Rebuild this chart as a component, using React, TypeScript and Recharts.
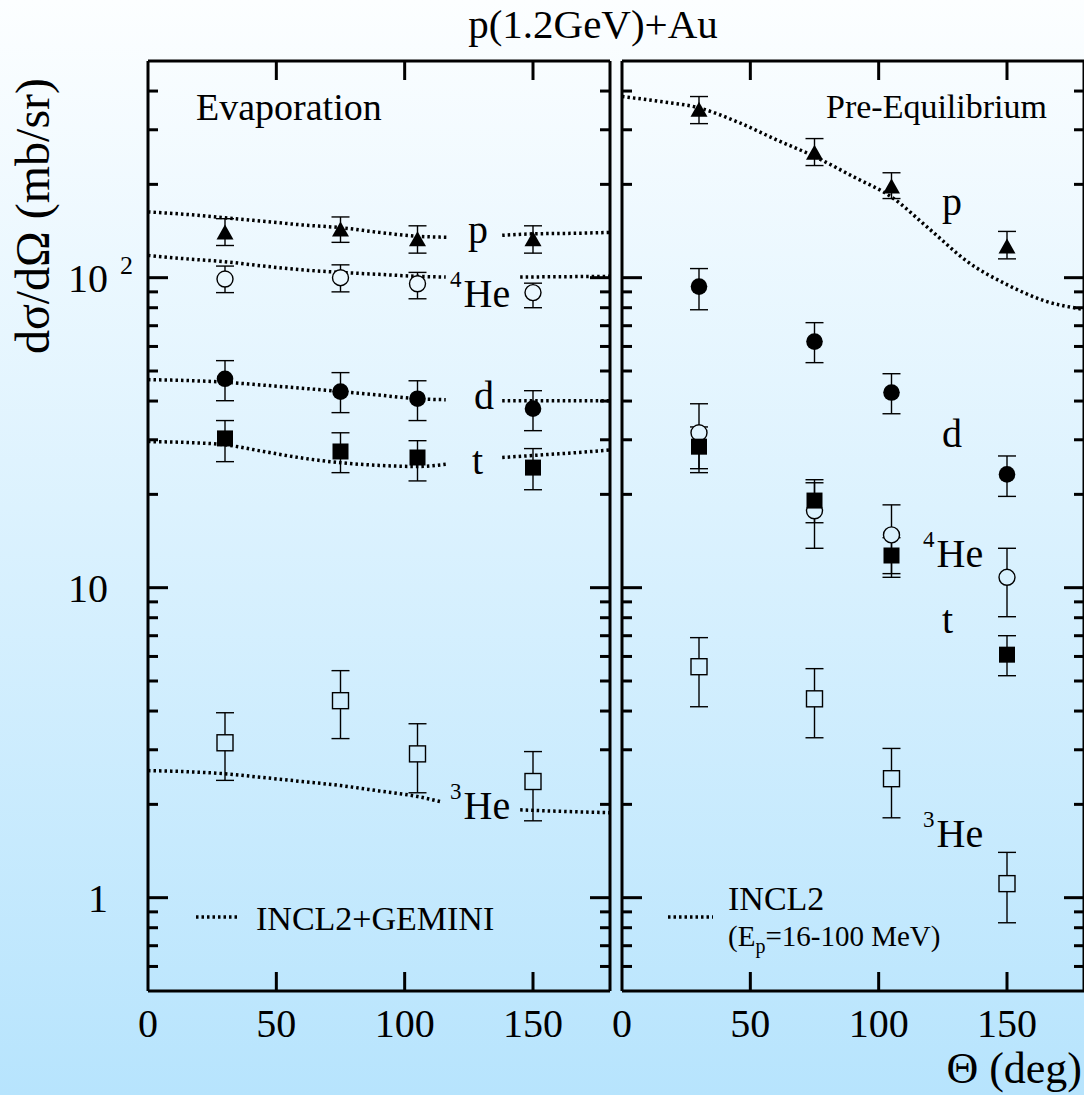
import React from "react";
import { ComposedChart, Line, Scatter, XAxis, YAxis, ErrorBar } from "recharts";

const W = 1084;
const H = 1095;
const TOP = 61;
const BOTTOM = 991;
const SERIF = "'Liberation Serif', 'Times New Roman', serif";
const BG_TOP = "#fcfeff";
const BG_BOTTOM = "#b7e4fd";

const angles = [30, 75, 105, 150];
const xTicks = [0, 50, 100, 150];
const yTicks = [
  0.6, 0.7, 0.8, 0.9, 1, 2, 3, 4, 5, 6, 7, 8, 9, 10, 20, 30, 40, 50, 60, 70, 80, 90, 100, 200, 300, 400,
];

// Evaporation panel: data (mb/sr) and error-bar bounds
const evapP = [140, 143, 133, 133];
const evapPLo = [127, 130, 120, 120];
const evapPHi = [155, 157, 147, 147];
const evapHe4 = [99, 100, 95.6, 89.5];
const evapHe4Lo = [89.5, 90, 85.5, 80];
const evapHe4Hi = [109, 110, 104, 96];
const evapD = [47.2, 42.9, 40.7, 37.8];
const evapDLo = [40.1, 36.7, 34.6, 32.1];
const evapDHi = [54, 49.4, 46.5, 43.2];
const evapT = [30.3, 27.5, 26.3, 24.4];
const evapTLo = [25.5, 23.5, 22.1, 20.7];
const evapTHi = [34.6, 31.6, 29.8, 28.1];
const evapHe3 = [3.16, 4.32, 2.91, 2.37];
const evapHe3Lo = [2.39, 3.26, 2.18, 1.77];
const evapHe3Hi = [3.95, 5.4, 3.64, 2.96];

// Pre-equilibrium panel
const preP = [348, 253, 197, 126];
const prePLo = [314, 230, 180, 115];
const prePHi = [384, 281, 218, 141];
const preD = [93.6, 62.2, 42.6, 23.2];
const preDLo = [78.8, 53.2, 36.4, 19.7];
const preDHi = [107, 71.6, 49, 26.6];
const preHe4 = [31.6, 17.7, 14.8, 10.8];
const preHe4Lo = [23.5, 13.4, 11.1, 8.06];
const preHe4Hi = [39.2, 21.8, 18.5, 13.4];
const preT = [28.5, 19.1, 12.7, 6.08];
const preTLo = [24.2, 16.2, 10.8, 5.2];
const preTHi = [33, 22.3, 14.5, 7.0];
const preHe3 = [5.56, 4.38, 2.42, 1.11];
const preHe3Lo = [4.13, 3.28, 1.81, 0.83];
const preHe3Hi = [6.9, 5.48, 3.03, 1.4];

// INCL2+GEMINI curves (null = gap under the particle label)
const gemPX = [0, 15, 30, 45, 60, 75, 90, 105, 117, 127, 138, 150, 165, 180];
const gemP = [163, 160, 156, 152, 148, 145, 140, 136, 135, null, 137, 138.5, 139, 140];
const gemHe4X = [0, 15, 30, 45, 60, 75, 90, 105, 116, 130, 145, 160, 180];
const gemHe4 = [118, 115, 112.6, 109, 106, 104, 102.5, 101, 100.5, null, 100.5, 100.7, 101];
const gemDX = [0, 30, 45, 60, 75, 90, 105, 116, 127, 138, 150, 180];
const gemD = [46.9, 46, 45, 44, 42.9, 41.8, 40.7, 40.4, null, 40.1, 40.1, 40.1];
const gemTX = [0, 15, 30, 45, 60, 75, 90, 105, 116, 127, 138, 150, 165, 180];
const gemT = [29.6, 29.4, 28.9, 27.5, 26.2, 25.3, 24.8, 24.6, 25, null, 26.3, 26.7, 27.2, 27.8];
const gemHe3X = [0, 15, 30, 45, 60, 75, 90, 105, 114, 130, 145, 160, 180];
const gemHe3 = [2.57, 2.55, 2.51, 2.44, 2.37, 2.3, 2.21, 2.12, 2.04, null, 1.92, 1.9, 1.88];

// INCL2 proton curve
const inclPX = [0, 15, 30, 45, 60, 75, 90, 105, 120, 135, 150, 165, 180];
const inclP = [384, 370, 353, 318, 279, 246, 212, 182, 143, 112, 95, 84, 79];

const points = (v: number[], lo: number[], hi: number[]) =>
  angles.map((x, i) => ({ x, y: v[i], err: [v[i] - lo[i], hi[i] - v[i]] }));
const curve = (xs: number[], ys: (number | null)[]) => xs.map((x, i) => ({ x, y: ys[i] }));

type Kind = "tri" | "dot" | "ring" | "box" | "openbox";

function Marker({ cx, cy, kind }: { cx?: number; cy?: number; kind: Kind }) {
  if (cx == null || cy == null) return null;
  const open = "url(#bgfill)";
  switch (kind) {
    case "tri":
      return <polygon points={`${cx},${cy - 8} ${cx - 8.5},${cy + 7} ${cx + 8.5},${cy + 7}`} fill="#000" />;
    case "dot":
      return <circle cx={cx} cy={cy} r={8.3} fill="#000" />;
    case "ring":
      return <circle cx={cx} cy={cy} r={8} fill={open} stroke="#000" strokeWidth={1.4} />;
    case "box":
      return <rect x={cx - 8} y={cy - 8} width={16} height={16} fill="#000" />;
    default:
      return <rect x={cx - 8} y={cy - 8} width={16} height={16} fill={open} stroke="#000" strokeWidth={1.4} />;
  }
}

function XTick(props: any) {
  const { x, y, payload, side } = props;
  const v = payload.value;
  const dir = side === "bottom" ? -1 : 1;
  return (
    <g>
      {v > 0 && v < 180 && <line x1={x} x2={x} y1={y} y2={y + dir * 19} stroke="#000" strokeWidth={3} />}
      {side === "bottom" && (
        <text x={x} y={y + 46} textAnchor="middle" fontSize={40} fontFamily={SERIF} fill="#000">
          {v}
        </text>
      )}
    </g>
  );
}

function YTick(props: any) {
  const { x, y, payload, side, labels } = props;
  const v = payload.value;
  const major = v === 1 || v === 10 || v === 100;
  const dir = side === "left" ? 1 : -1;
  const len = major ? 20 : 10;
  return (
    <g>
      <line x1={x} x2={x + dir * len} y1={y} y2={y} stroke="#000" strokeWidth={3} />
      {labels && major && (
        <text x={x - 40} y={y + 14} textAnchor="end" fontSize={40} fontFamily={SERIF} fill="#000">
          {v === 100 ? "10" : String(v)}
        </text>
      )}
      {labels && v === 100 && (
        <text x={x - 28} y={y - 4} textAnchor="start" fontSize={26} fontFamily={SERIF} fill="#000">
          2
        </text>
      )}
    </g>
  );
}

type Series = { data: { x: number; y: number; err: number[] }[]; kind: Kind };

function Panel({
  left,
  right,
  labels,
  series,
  curves,
}: {
  left: number;
  right: number;
  labels: boolean;
  series: Series[];
  curves: { x: number; y: number | null }[][];
}) {
  const axisLine = { stroke: "#000", strokeWidth: 3 };
  // axes are 1px thick boxes, so margins are pulled in by one pixel
  const margin = { top: TOP - 1, bottom: H - BOTTOM - 1, left: left - 1, right: W - right - 1 };
  return (
    <div style={{ position: "absolute", left: 0, top: 0 }}>
      <ComposedChart width={W} height={H} margin={margin}>
        <XAxis
          xAxisId="b"
          type="number"
          dataKey="x"
          domain={[0, 180]}
          allowDataOverflow
          ticks={xTicks}
          interval={0}
          height={1}
          tickSize={0}
          tickMargin={0}
          tickLine={false}
          axisLine={axisLine}
          tick={(p: any) => <XTick {...p} side="bottom" />}
        />
        <XAxis
          xAxisId="t"
          orientation="top"
          type="number"
          dataKey="x"
          domain={[0, 180]}
          allowDataOverflow
          ticks={xTicks}
          interval={0}
          height={1}
          tickSize={0}
          tickMargin={0}
          tickLine={false}
          axisLine={axisLine}
          tick={(p: any) => <XTick {...p} side="top" />}
        />
        <YAxis
          yAxisId="l"
          dataKey="y"
          scale="log"
          type="number"
          domain={[0.5, 500]}
          allowDataOverflow
          ticks={yTicks}
          interval={0}
          width={1}
          tickSize={0}
          tickMargin={0}
          tickLine={false}
          axisLine={axisLine}
          tick={(p: any) => <YTick {...p} side="left" labels={labels} />}
        />
        <YAxis
          yAxisId="r"
          orientation="right"
          dataKey="y"
          scale="log"
          type="number"
          domain={[0.5, 500]}
          allowDataOverflow
          ticks={yTicks}
          interval={0}
          width={1}
          tickSize={0}
          tickMargin={0}
          tickLine={false}
          axisLine={axisLine}
          tick={(p: any) => <YTick {...p} side="right" labels={false} />}
        />
        {curves.map((c, i) => (
          <Line
            key={`c${i}`}
            xAxisId="b"
            yAxisId="l"
            data={c}
            dataKey="y"
            type="monotone"
            stroke="#000"
            strokeWidth={3.5}
            strokeDasharray="2.5 3"
            dot={false}
            activeDot={false}
            isAnimationActive={false}
          />
        ))}
        {series.map((s, i) => (
          <Scatter
            key={`s${i}`}
            xAxisId="b"
            yAxisId="l"
            data={s.data}
            dataKey="y"
            shape={(p: any) => <Marker cx={p.cx} cy={p.cy} kind={s.kind} />}
            isAnimationActive={false}
          >
            <ErrorBar dataKey="err" direction="y" width={9} stroke="#000" strokeWidth={1.4} isAnimationActive={false} />
          </Scatter>
        ))}
      </ComposedChart>
    </div>
  );
}

const txt = { fontFamily: SERIF, fill: "#000" };

function Sup({ x, y, digit }: { x: number; y: number; digit: string }) {
  return (
    <text x={x} y={y} {...txt}>
      <tspan fontSize={23} dy={-20}>
        {digit}
      </tspan>
      <tspan fontSize={40} dy={20} dx={2}>
        He
      </tspan>
    </text>
  );
}

export default function App() {
  const evapSeries: Series[] = [
    { data: points(evapP, evapPLo, evapPHi), kind: "tri" },
    { data: points(evapHe4, evapHe4Lo, evapHe4Hi), kind: "ring" },
    { data: points(evapD, evapDLo, evapDHi), kind: "dot" },
    { data: points(evapT, evapTLo, evapTHi), kind: "box" },
    { data: points(evapHe3, evapHe3Lo, evapHe3Hi), kind: "openbox" },
  ];
  const preSeries: Series[] = [
    { data: points(preP, prePLo, prePHi), kind: "tri" },
    { data: points(preD, preDLo, preDHi), kind: "dot" },
    { data: points(preHe4, preHe4Lo, preHe4Hi), kind: "ring" },
    { data: points(preT, preTLo, preTHi), kind: "box" },
    { data: points(preHe3, preHe3Lo, preHe3Hi), kind: "openbox" },
  ];
  const evapCurves = [
    curve(gemPX, gemP),
    curve(gemHe4X, gemHe4),
    curve(gemDX, gemD),
    curve(gemTX, gemT),
    curve(gemHe3X, gemHe3),
  ];
  const preCurves = [curve(inclPX, inclP)];

  return (
    <div
      style={{
        position: "relative",
        width: W,
        height: H,
        overflow: "hidden",
        background: `linear-gradient(to bottom, ${BG_TOP}, ${BG_BOTTOM})`,
      }}
    >
      <style>{`body{margin:0}`}</style>
      <Panel left={148} right={610} labels series={evapSeries} curves={evapCurves} />
      <Panel left={622} right={1084} labels={false} series={preSeries} curves={preCurves} />
      <svg width={W} height={H} style={{ position: "absolute", left: 0, top: 0, pointerEvents: "none" }}>
        <defs>
          <linearGradient id="bgfill" gradientUnits="userSpaceOnUse" x1={0} y1={0} x2={0} y2={H}>
            <stop offset="0" stopColor={BG_TOP} />
            <stop offset="1" stopColor={BG_BOTTOM} />
          </linearGradient>
        </defs>
        <text x={593} y={38} textAnchor="middle" fontSize={41} {...txt}>
          p(1.2GeV)+Au
        </text>
        <text transform="translate(49,216) rotate(-90)" textAnchor="middle" fontSize={48} {...txt}>
          dσ/dΩ (mb/sr)
        </text>
        <text x={1082} y={1083} textAnchor="end" fontSize={44} {...txt}>
          Θ (deg)
        </text>
        <text x={196} y={120} fontSize={38} {...txt}>
          Evaporation
        </text>
        <text x={826} y={118} fontSize={34} {...txt}>
          Pre-Equilibrium
        </text>

        <text x={468} y={243} fontSize={40} {...txt}>p</text>
        <Sup x={450} y={307} digit="4" />
        <text x={474} y={409} fontSize={40} {...txt}>d</text>
        <text x={472} y={474} fontSize={40} {...txt}>t</text>
        <Sup x={450} y={819} digit="3" />

        <text x={942} y={215} fontSize={40} {...txt}>p</text>
        <text x={942} y={447} fontSize={40} {...txt}>d</text>
        <Sup x={923} y={567} digit="4" />
        <text x={942} y={633} fontSize={40} {...txt}>t</text>
        <Sup x={923} y={847} digit="3" />

        <line x1={196} x2={239} y1={917} y2={917} stroke="#000" strokeWidth={3.5} strokeDasharray="2.5 3" />
        <text x={256} y={930} fontSize={34} {...txt}>INCL2+GEMINI</text>
        <line x1={668} x2={713} y1={917} y2={917} stroke="#000" strokeWidth={3.5} strokeDasharray="2.5 3" />
        <text x={728} y={910} fontSize={34} {...txt}>INCL2</text>
        <text x={728} y={946} fontSize={29} {...txt}>
          (E<tspan fontSize={20} dy={7}>p</tspan>
          <tspan dy={-7}>=16-100 MeV)</tspan>
        </text>
      </svg>
    </div>
  );
}
